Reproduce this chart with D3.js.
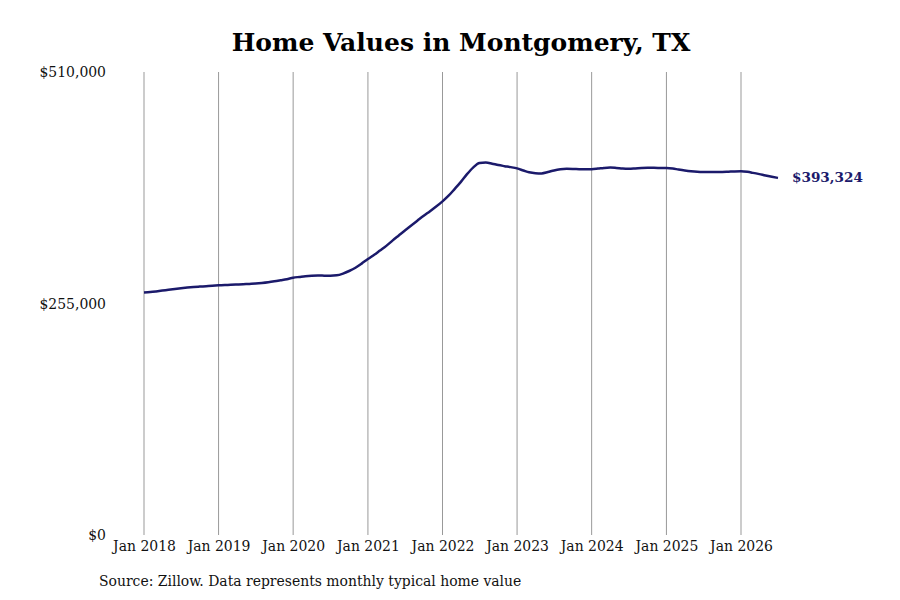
<!DOCTYPE html>
<html>
<head>
<meta charset="utf-8">
<script src="https://cdn.jsdelivr.net/npm/d3@7"></script>
<style>
  body { margin: 0; background: #fff; }
  text { font-family: "DejaVu Serif", serif; }
  .cond { font-stretch: condensed; }
</style>
</head>
<body>
<div id="chart"></div>
<script>
// --- Data: monthly typical home value, Jan 2018 .. Jul 2026 ---
const startMonth = new Date(2018, 0, 1);
const values = [
  267100, 267600, 268300, 269200, 270100, 271000, 271800, 272500, 273100, 273600, 274100, 274600,
  275000, 275300, 275600, 275900, 276200, 276600, 277000, 277600, 278400, 279400, 280600, 281800,
  283400, 284300, 285100, 285600, 285800, 285700, 285600, 286000, 287900, 290800, 294400, 298900,
  304000, 308600, 313300, 318500, 324300, 330000, 335500, 341000, 346400, 351600, 356700, 361800,
  367500, 374000, 381000, 389000, 397500, 405000, 409800, 410300, 409000, 407500, 406300, 405200,
  403800, 401500, 399500, 398500, 398300, 399800, 401600, 402800, 403300, 403200, 403000, 402900,
  403000, 403600, 404300, 404700, 404300, 403700, 403500, 403800, 404200, 404400, 404400, 404300,
  404200, 403600, 402600, 401600, 400800, 400200, 399900, 399800, 399800, 399900, 400200, 400500,
  400600, 400000, 398900, 397500, 396000, 394600, 393324
];
const yTicks = [0, 255000, 510000];
const xTickYears = [2018, 2019, 2020, 2021, 2022, 2023, 2024, 2025, 2026];

const title = "Home Values in Montgomery, TX";
const source = "Source: Zillow. Data represents monthly typical home value";

const series = values.map((v, i) => ({
  date: new Date(startMonth.getFullYear(), startMonth.getMonth() + i, 1),
  value: v
}));

// --------------------------
// CHART DIMENSIONS
// --------------------------
const width = 900;
const height = 600;
const margin = { top: 72, right: 122, bottom: 65, left: 144 };

const svg = d3.select("#chart")
  .append("svg")
  .attr("width", width)
  .attr("height", height);

const x = d3.scaleTime()
  .domain([new Date(2018, 0, 1), new Date(2026, 0, 1)])
  .range([144, 741]);

const y = d3.scaleLinear()
  .domain([0, 510000])
  .range([height - margin.bottom, margin.top]);

// Vertical gridlines
svg.append("g")
  .selectAll("line")
  .data(xTickYears)
  .join("line")
    .attr("x1", d => x(new Date(d, 0, 1)))
    .attr("x2", d => x(new Date(d, 0, 1)))
    .attr("y1", y(510000))
    .attr("y2", y(0))
    .attr("stroke", "#999")
    .attr("stroke-width", 1);

// X axis labels
const xAxis = svg.append("g")
  .attr("transform", `translate(0, ${y(0) + 2})`)
  .call(d3.axisBottom(x)
    .tickValues(xTickYears.map(d => new Date(d, 0, 1)))
    .tickFormat(d3.timeFormat("Jan %Y"))
    .tickSize(0));
xAxis.select(".domain").remove();
xAxis.selectAll("text")
  .attr("class", "cond")
  .attr("font-size", 15.5)
  .attr("fill", "#111");

// Y axis labels
const yAxis = svg.append("g")
  .attr("transform", `translate(108, 0)`)
  .call(d3.axisLeft(y)
    .tickValues(yTicks)
    .tickFormat(d => "$" + d3.format(",")(d))
    .tickSize(0));
yAxis.select(".domain").remove();
yAxis.selectAll("text")
  .attr("class", "cond")
  .attr("font-size", 15.5)
  .attr("fill", "#111")
  .attr("x", -2);

// Line
const line = d3.line()
  .x(d => x(d.date))
  .y(d => y(d.value))
  .curve(d3.curveMonotoneX);

svg.append("path")
  .datum(series)
  .attr("d", line)
  .attr("fill", "none")
  .attr("stroke", "#1b1a6b")
  .attr("stroke-width", 2.5);

// End label
const last = series[series.length - 1];
svg.append("text")
  .attr("x", x(last.date) + 14)
  .attr("y", y(last.value) - 1)
  .attr("dy", "0.35em")
  .attr("font-size", 13.6)
  .attr("font-weight", "bold")
  .attr("fill", "#1b1a6b")
  .text("$" + d3.format(",")(last.value));

// Title
svg.append("text")
  .attr("x", 461)
  .attr("y", 51)
  .attr("text-anchor", "middle")
  .attr("font-size", 25)
  .attr("font-weight", "bold")
  .attr("fill", "#000")
  .text(title);

// Source
svg.append("text")
  .attr("class", "cond")
  .attr("x", 99)
  .attr("y", 586)
  .attr("font-size", 15.5)
  .attr("fill", "#111")
  .text(source);
</script>
</body>
</html>
